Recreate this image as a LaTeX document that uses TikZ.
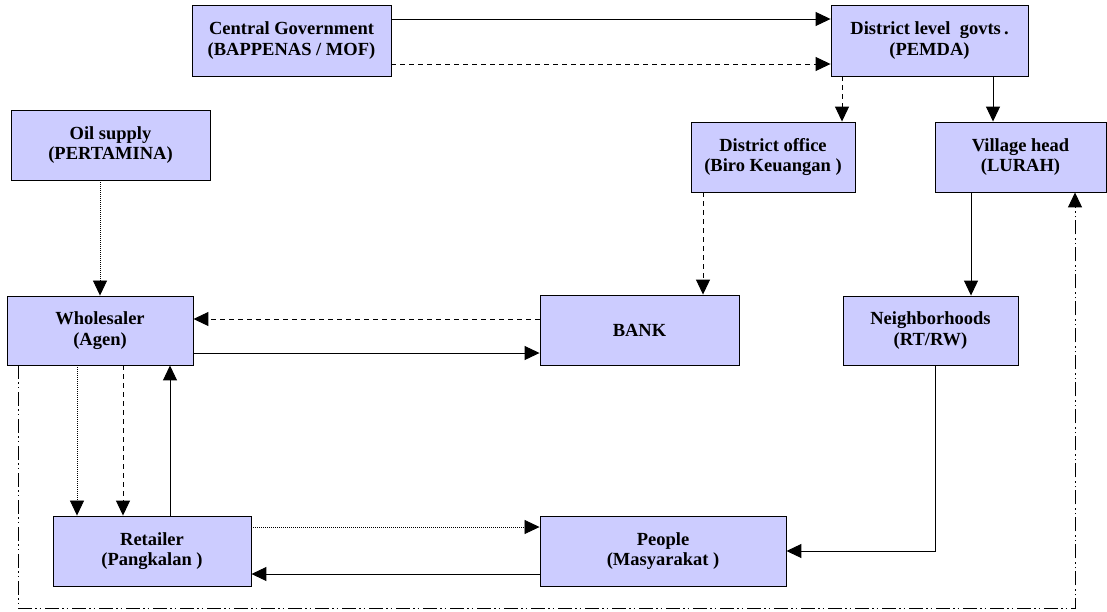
\documentclass[tikz,border=0pt]{standalone}
\usepackage{fontspec}
\setmainfont{Liberation Serif}
\usepackage{tikz}
\usetikzlibrary{arrows.meta, calc, positioning}

\tikzset{
	unit/.style={draw, line width=0.9pt, fill=boxfill, align=center, font=\fontsize{18.5}{20.5}\selectfont\bfseries, inner sep=0pt},
	flow/.style={-{Triangle[length=15pt,width=14pt]}, line width=1pt},
	money/.style={flow, dash pattern=on 5pt off 4pt},
	oil/.style={flow, dash pattern=on 1pt off 1pt, line width=0.8pt},
	report/.style={flow, dash pattern=on 14pt off 3pt on 1.5pt off 3pt on 1.5pt off 4pt}
}
\definecolor{boxfill}{RGB}{204,204,255}

\begin{document}
\begin{tikzpicture}[x=1pt, y=-1pt]
	\useasboundingbox (0,0) rectangle (1107,611);
	
	\node(cg)   [unit, minimum width=199pt, minimum height=71pt] at (291.5,40.5) {Central Government\\(BAPPENAS / MOF)};
	\node(dlg)  [unit, minimum width=197pt, minimum height=71pt] at (929.5,40.5) {District level\ \ govts\,.\\(PEMDA)};
	\node(oil)  [unit, minimum width=199pt, minimum height=70pt] at (110.5,145) {Oil supply\\(PERTAMINA)};
	\node(doff) [unit, minimum width=164pt, minimum height=70pt] at (773,157) {District office\\(Biro Keuangan )};
	\node(vh)   [unit, minimum width=171pt, minimum height=70pt] at (1020.5,157) {Village head\\(LURAH)};
	\node(whole)[unit, minimum width=186pt, minimum height=69pt] at (100,330.5) {Wholesaler\\(Agen)};
	\node(bank) [unit, minimum width=199pt, minimum height=70pt] at (639.5,330) {BANK};
	\node(nbh)  [unit, minimum width=175pt, minimum height=69pt] at (930.5,330.5) {Neighborhoods\\(RT/RW)};
	\node(ret)  [unit, minimum width=198pt, minimum height=70pt] at (152,551) {Retailer\\(Pangkalan )};
	\node(ppl)  [unit, minimum width=246pt, minimum height=70pt] at (663,551) {People\\(Masyarakat )};
	
	% government chain
	\draw[flow]  ([yshift=21.5pt]cg.east) -- ([yshift=21.5pt]cg.east -| dlg.west);
	\draw[money] ([yshift=-23.5pt]cg.east) -- ([yshift=-23.5pt]cg.east -| dlg.west);
	\draw[money] ([xshift=-87.5pt]dlg.south) -- ([xshift=-87.5pt]dlg.south |- doff.north);
	\draw[flow]  ([xshift=63.5pt]dlg.south) -- ([xshift=63.5pt]dlg.south |- vh.north);
	\draw[money] ([xshift=-70pt]doff.south) -- ([xshift=-70pt]doff.south |- bank.north);
	\draw[flow]  ([xshift=-49.5pt]vh.south) -- ([xshift=-49.5pt]vh.south |- nbh.north);
	\draw[flow]  ([xshift=4.5pt]nbh.south) |- (ppl.east);
	
	% oil and money flow
	\draw[oil]   ([xshift=-10.5pt]oil.south) -- ([xshift=-10.5pt]oil.south |- whole.north);
	\draw[money] ([yshift=11pt]bank.west) -- ([yshift=11pt]bank.west -| whole.east);
	\draw[flow]  ([yshift=-22.5pt]whole.east) -- ([yshift=-22.5pt]whole.east -| bank.west);
	\draw[oil]   ([xshift=-23pt]whole.south) -- ([xshift=-23pt]whole.south |- ret.north);
	\draw[money] ([xshift=23pt]whole.south) -- ([xshift=23pt]whole.south |- ret.north);
	\draw[flow]  ([xshift=18pt]ret.north) -- ([xshift=18pt]ret.north |- whole.south);
	\draw[oil]   ([yshift=24pt]ret.east) -- ([yshift=24pt]ret.east -| ppl.west);
	\draw[flow]  ([yshift=-23pt]ppl.west) -- ([yshift=-23pt]ppl.west -| ret.east);
	\draw[report] ([xshift=-82pt]whole.south) -- ++(0,243) -| ([xshift=54.5pt]vh.south);
	
\end{tikzpicture}
\end{document}
